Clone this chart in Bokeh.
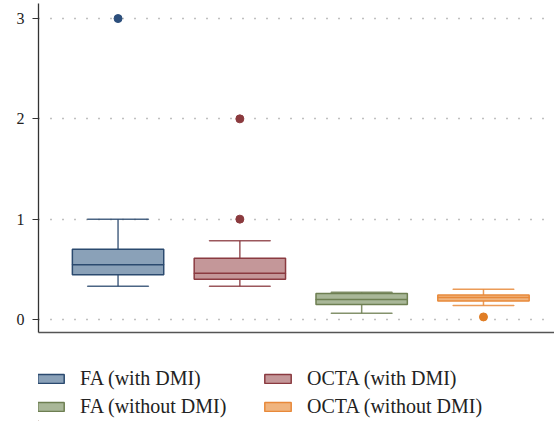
from bokeh.plotting import figure
from bokeh.layouts import column
from bokeh.models import ColumnDataSource, Legend, LegendItem, Range1d, FixedTicker
from bokeh.embed import file_html
from bokeh.resources import INLINE

categories = ["FA (with DMI)", "OCTA (with DMI)", "FA (without DMI)", "OCTA (without DMI)"]
q1 = [0.445, 0.40, 0.15, 0.185]
median = [0.545, 0.46, 0.20, 0.22]
q3 = [0.70, 0.61, 0.26, 0.245]
lower = [0.33, 0.33, 0.063, 0.14]
upper = [1.0, 0.785, 0.27, 0.30]
outlier_group = [0, 1, 1, 3]
outlier_value = [3.0, 2.0, 1.0, 0.025]
yticks = [0, 1, 2, 3]
legend_order = [0, 2, 1, 3]

line_colors = ["#2b4a6f", "#8a3a40", "#6e7f52", "#e8893a"]
fill_colors = ["#8aa1b8", "#c49799", "#a9b798", "#f0b47e"]
dot_colors = ["#2c4f7c", "#8b3a3e", "#6e7f52", "#e07d24"]

FONT = "Liberation Serif"

p = figure(output_backend="svg", toolbar_location=None,
           frame_width=516, frame_height=329,
           min_border_left=38, min_border_right=0, min_border_top=3, min_border_bottom=14,
           x_range=Range1d(0.347, 4.583), y_range=Range1d(-0.13, 3.15))
p.outline_line_color = None
p.background_fill_color = "white"

p.xgrid.visible = False
p.ygrid.ticker = FixedTicker(ticks=yticks)
p.ygrid.grid_line_color = "#808080"
p.ygrid.grid_line_dash = "1 11"
p.ygrid.grid_line_width = 1.4

p.yaxis.ticker = FixedTicker(ticks=yticks)
p.yaxis.minor_tick_line_color = None
p.yaxis.major_tick_in = 0
p.yaxis.major_tick_out = 6
p.yaxis.major_tick_line_color = "#333333"
p.yaxis.axis_line_color = "#333333"
p.yaxis.axis_line_width = 1.3
p.yaxis.major_label_text_font = FONT
p.yaxis.major_label_text_font_size = "16px"
p.yaxis.major_label_text_color = "#222222"
p.yaxis.major_label_standoff = 8

p.xaxis.minor_tick_line_color = None
p.xaxis.major_tick_line_color = None
p.xaxis.major_tick_out = 0
p.xaxis.major_tick_in = 0
p.xaxis.major_label_text_color = None
p.xaxis.major_label_text_font_size = "1px"
p.xaxis.major_label_standoff = 0
p.xaxis.axis_line_color = "#555555"
p.xaxis.axis_line_width = 1.3

# legend-only figure below the plot
p2 = figure(output_backend="svg", toolbar_location=None, width=554, height=75,
            min_border_left=0, min_border_right=0, min_border_top=0, min_border_bottom=0,
            x_axis_location=None, y_axis_location=None,
            x_range=Range1d(100, 101), y_range=Range1d(100, 101))
p2.outline_line_color = None
p2.grid.visible = False

items = []
for i, name in enumerate(categories):
    xpos = i + 1
    src = ColumnDataSource(dict(x=[xpos], q1=[q1[i]], q3=[q3[i]], med=[median[i]],
                                lo=[lower[i]], hi=[upper[i]]))
    lc, fc = line_colors[i], fill_colors[i]
    p.segment(x0="x", y0="q3", x1="x", y1="hi", source=src, line_color=lc, line_width=1.5, line_alpha=0.85)
    p.segment(x0="x", y0="lo", x1="x", y1="q1", source=src, line_color=lc, line_width=1.5, line_alpha=0.85)
    p.rect(x="x", y="hi", width=0.5, height=0.0001, source=src, line_color=lc, line_width=1.5,
           line_alpha=0.85, fill_color=None)
    p.rect(x="x", y="lo", width=0.5, height=0.0001, source=src, line_color=lc, line_width=1.5,
           line_alpha=0.85, fill_color=None)
    p.vbar(x="x", bottom="q1", top="q3", width=0.75, source=src,
           fill_color=fc, line_color=lc, line_width=1.5)
    p.rect(x="x", y="med", width=0.75, height=0.0001, source=src, line_color=lc, line_width=1.5,
           fill_color=None)
    box2 = p2.vbar(x="x", bottom="q1", top="q3", width=0.75, source=src,
                   fill_color=fc, line_color=lc, line_width=1.5)
    items.append(LegendItem(label=name, renderers=[box2]))

osrc = ColumnDataSource(dict(x=[g + 1 for g in outlier_group], y=outlier_value,
                             c=[dot_colors[g] for g in outlier_group]))
p.scatter(x="x", y="y", source=osrc, size=8, fill_color="c", line_color="c")

legend = Legend(items=[items[k] for k in legend_order], ncols=2, orientation="vertical",
                location=(-4, 3),
                glyph_width=33, glyph_height=11, label_standoff=13, label_width=176,
                spacing=5, padding=0, margin=0, border_line_color=None,
                background_fill_alpha=0,
                label_text_font=FONT, label_text_font_size="20px", label_text_color="#222222",
                label_height=20)
p2.add_layout(legend, "center")

layout = column(p, p2, spacing=0)
open("out.html", "w").write(file_html(layout, INLINE))
